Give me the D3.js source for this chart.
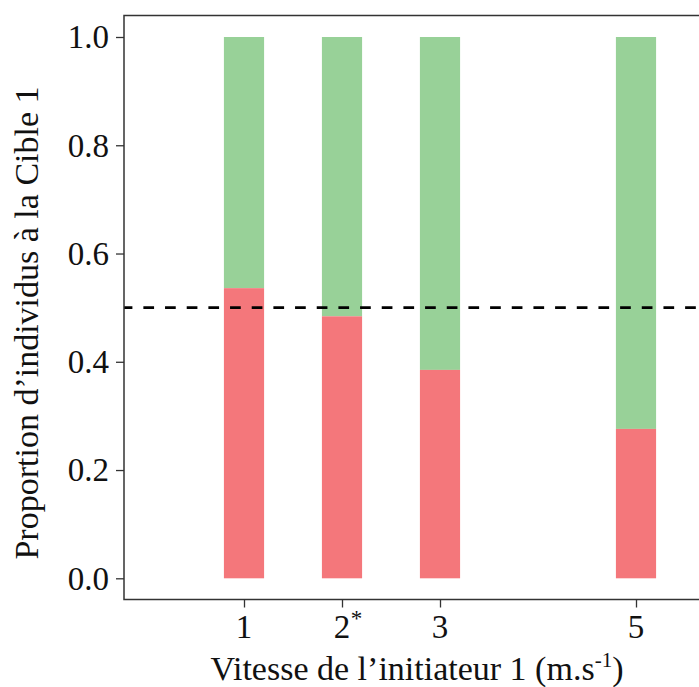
<!DOCTYPE html>
<html>
<head>
<meta charset="utf-8">
<script src="https://cdn.jsdelivr.net/npm/d3@7"></script>
<style>
  html, body { margin: 0; padding: 0; background: #fff; }
  svg { display: block; }
  text { font-family: "Liberation Serif", "DejaVu Serif", serif; fill: #111; }
</style>
</head>
<body>
<svg id="chart"></svg>
<script>
const width = 699;
const height = 687;

// data
const speeds = [1, 2, 3, 5];
const tickLabels = ['1', '2*', '3', '5'];
const propCible1 = [0.536, 0.484, 0.385, 0.276];
const yTicks = [0.0, 0.2, 0.4, 0.6, 0.8, 1.0];
const reference = 0.5;

const frame = {left: 124, top: 15.5, right: 760, bottom: 599.5};
const barWidth = 0.41;
const tickSize = 33;
const titleSize = 34;

const svg = d3.select('#chart')
    .attr('width', width)
    .attr('height', height);

const x = d3.scaleLinear().domain([0, 6]).range([146, 734]);
const y = d3.scaleLinear().domain([0, 1]).range([578.3, 37]);

// bars: red part (proportion), green part up to 1
const bars = svg.append('g');
bars.selectAll('rect.green')
    .data(speeds)
    .enter()
    .append('rect')
    .attr('class', 'green')
    .attr('x', d => x(d - barWidth / 2))
    .attr('width', d => x(d + barWidth / 2) - x(d - barWidth / 2))
    .attr('y', y(1))
    .attr('height', (d, i) => y(propCible1[i]) - y(1))
    .attr('fill', '#98d198');

bars.selectAll('rect.red')
    .data(speeds)
    .enter()
    .append('rect')
    .attr('class', 'red')
    .attr('x', d => x(d - barWidth / 2))
    .attr('width', d => x(d + barWidth / 2) - x(d - barWidth / 2))
    .attr('y', (d, i) => y(propCible1[i]))
    .attr('height', (d, i) => y(0) - y(propCible1[i]))
    .attr('fill', '#f4777b');

// reference line at 0.5
svg.append('line')
    .attr('x1', frame.left)
    .attr('x2', width + 5)
    .attr('y1', y(reference))
    .attr('y2', y(reference))
    .attr('stroke', '#000')
    .attr('stroke-width', 2.6)
    .attr('stroke-dasharray', '10.7,10.97')
    .attr('stroke-dashoffset', 2.3);

// frame
svg.append('rect')
    .attr('x', frame.left)
    .attr('y', frame.top)
    .attr('width', frame.right - frame.left)
    .attr('height', frame.bottom - frame.top)
    .attr('fill', 'none')
    .attr('stroke', '#333')
    .attr('stroke-width', 1.5);

// y axis
const yAxis = svg.append('g')
    .attr('transform', `translate(${frame.left}, 0)`)
    .call(d3.axisLeft(y).tickValues(yTicks).tickFormat(d3.format('.1f')).tickSize(8).tickPadding(7));
yAxis.select('.domain').remove();
yAxis.selectAll('.tick line').attr('stroke', '#333').attr('stroke-width', 1.3);
yAxis.selectAll('.tick text')
    .attr('font-size', tickSize)
    .attr('font-family', '"Liberation Serif", serif')
    .attr('fill', '#111')
    .attr('dy', '0.33em');

// x axis
const xAxis = svg.append('g')
    .attr('transform', `translate(0, ${frame.bottom})`)
    .call(d3.axisBottom(x).tickValues(speeds).tickFormat('').tickSize(8));
xAxis.select('.domain').remove();
xAxis.selectAll('.tick line').attr('stroke', '#333').attr('stroke-width', 1.3);

speeds.forEach((s, i) => {
    const label = tickLabels[i];
    const star = label.endsWith('*');
    const t = svg.append('text')
        .attr('x', x(s))
        .attr('y', 638)
        .attr('font-size', tickSize)
        .attr('text-anchor', 'middle')
        .text(star ? label.slice(0, -1) : label);
    if (star) {
        svg.append('text')
            .attr('x', x(s) + t.node().getComputedTextLength() / 2 + 0.5)
            .attr('y', 638 - 12)
            .attr('font-size', tickSize * 0.7)
            .text('*');
    }
});

// axis titles
const xTitle = svg.append('text')
    .attr('x', 417)
    .attr('y', 680)
    .attr('font-size', titleSize)
    .attr('text-anchor', 'middle');
xTitle.append('tspan').text('Vitesse de l\u2019initiateur 1 (m.s');
xTitle.append('tspan').attr('font-size', titleSize * 0.62).attr('dy', -13).text('-1');
xTitle.append('tspan').attr('dy', 13).text(')');

svg.append('text')
    .attr('transform', 'translate(38, 323) rotate(-90)')
    .attr('font-size', titleSize)
    .attr('text-anchor', 'middle')
    .text('Proportion d\u2019individus \u00e0 la Cible 1');
</script>
</body>
</html>
